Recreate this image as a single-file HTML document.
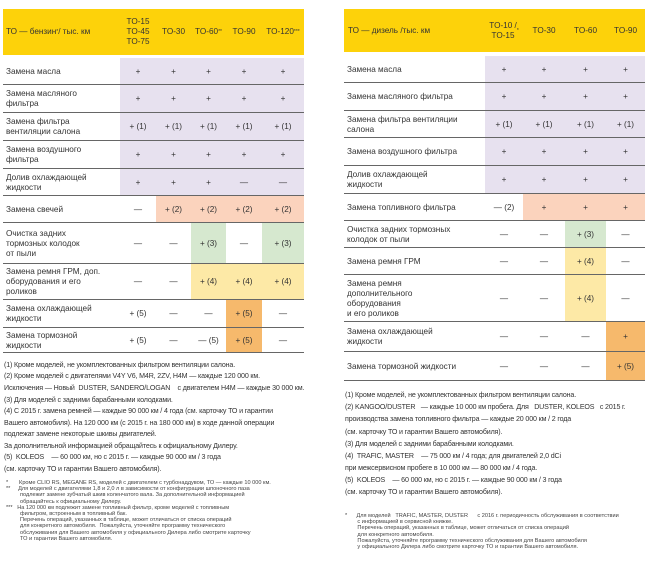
<!DOCTYPE html>
<html><head><meta charset="utf-8">
<style>
body{margin:0;width:650px;height:568px;background:#fff;position:relative;overflow:hidden;font-family:"Liberation Sans","DejaVu Sans",sans-serif;color:#333}
.a{position:absolute;box-sizing:border-box}
.hd{background:#fdd20a}
.t{font-size:8.2px;line-height:10px;display:flex;align-items:center}
.c{justify-content:center;text-align:center}
.ln{position:absolute;height:1px;background:#666}
.fn{position:absolute;font-size:7.1px;letter-spacing:-0.15px;white-space:nowrap;color:#333}
.sn{position:absolute;font-size:5.3px;white-space:nowrap;color:#444;line-height:6.2px}
</style></head><body>
<div id="root"></div>
<script>
const root=document.getElementById('root');
function box(x,y,w,h,cls,html,bg){const d=document.createElement('div');d.className='a '+cls;d.style.left=x+'px';d.style.top=y+'px';d.style.width=w+'px';d.style.height=h+'px';if(bg)d.style.background=bg;if(html)d.innerHTML=html;root.appendChild(d);return d;}
const C={p:'#e7e1ef',s:'#fbd3bd',g:'#d6e8cf',y:'#fde9a6',o:'#f6b96c',w:''};
// LEFT TABLE
const leftCols=['TO-15<br>TO-45<br>TO-75','TO-30','TO-60 <sup style="font-size:5px">**</sup>','TO-90','TO-120 <sup style="font-size:5px">***</sup>'];
const leftX=[120,156,191,226,262,304];
const leftRowY=[58,85,113,141,169,196,223,264,300,328,353];
const leftLabels=['Замена масла','Замена масляного<br>фильтра','Замена фильтра<br>вентиляции салона','Замена воздушного<br>фильтра','Долив охлаждающей<br>жидкости','Замена свечей','Очистка задних<br>тормозных колодок<br>от пыли','Замена ремня ГРМ, доп.<br>оборудования и его<br>роликов','Замена охлаждающей<br>жидкости','Замена тормозной<br>жидкости'];
const leftVals=[['+','+','+','+','+'],['+','+','+','+','+'],['+ (1)','+ (1)','+ (1)','+ (1)','+ (1)'],['+','+','+','+','+'],['+','+','+','—','—'],['—','+ (2)','+ (2)','+ (2)','+ (2)'],['—','—','+ (3)','—','+ (3)'],['—','—','+ (4)','+ (4)','+ (4)'],['+ (5)','—','—','+ (5)','—'],['+ (5)','—','— (5)','+ (5)','—']];
const leftCol=['ppppp','ppppp','ppppp','ppppp','ppppp','wssss','wwgwg','wwyyy','wwwow','wwwow'];
const h1=box(3,9,301,46,'hd t','',null);


const hl=box(6,9,114,46,'t','ТО — бензин <sup style="font-size:5px">*</sup> / тыс. км');


leftCols.forEach((t,i)=>{const d=box(leftX[i],9,leftX[i+1]-leftX[i],46,'t c',t);

});
leftLabels.forEach((lab,r)=>{const y=leftRowY[r],h=leftRowY[r+1]-y;
const l=box(6,y,114,h,'t',lab);


leftVals[r].forEach((v,i)=>{const d=box(leftX[i],y,leftX[i+1]-leftX[i],h,'t c',v,C[leftCol[r][i]]);

});
const ln=box(3,leftRowY[r+1]-1,301,1,'ln','');

});
// RIGHT TABLE
const rightCols=['TO-10 /<br>TO-15 <sup style="font-size:5px">*</sup>','TO-30','TO-60','TO-90'];
const rightX=[485,523,565,606,645];
const rightRowY=[56,83,111,138,166,194,221,248,275,322,352,381];
const rightLabels=['Замена масла','Замена масляного фильтра','Замена фильтра вентиляции<br>салона','Замена воздушного фильтра','Долив охлаждающей<br>жидкости','Замена топливного фильтра','Очистка задних тормозных<br>колодок от пыли','Замена ремня ГРМ','Замена ремня<br>дополнительного<br>оборудования<br>и его роликов','Замена охлаждающей<br>жидкости','Замена тормозной жидкости'];
const rightVals=[['+','+','+','+'],['+','+','+','+'],['+ (1)','+ (1)','+ (1)','+ (1)'],['+','+','+','+'],['+','+','+','+'],['— (2)','+','+','+'],['—','—','+ (3)','—'],['—','—','+ (4)','—'],['—','—','+ (4)','—'],['—','—','—','+'],['—','—','—','+ (5)']];
const rightCol=['pppp','pppp','pppp','pppp','pppp','wsss','wwgw','wwyw','wwyw','wwwo','wwwo'];
const h2=box(344,9,301,43,'hd t','',null);


const hl2=box(348,9,136,43,'t','ТО — дизель /тыс. км');


rightCols.forEach((t,i)=>{const d=box(rightX[i],9,rightX[i+1]-rightX[i],43,'t c',t);

});
rightLabels.forEach((lab,r)=>{const y=rightRowY[r],h=rightRowY[r+1]-y;
const l=box(347,y,137,h,'t',lab);


rightVals[r].forEach((v,i)=>{const d=box(rightX[i],y,rightX[i+1]-rightX[i],h,'t c',v,C[rightCol[r][i]]);

});
const ln=box(344,rightRowY[r+1]-1,301,1,'ln','');

});
// FOOTNOTES
const leftNotes=['(1) Кроме моделей, не укомплектованных фильтром вентиляции салона.','(2) Кроме моделей с двигателями V4Y V6, M4R, 2ZV, H4M — каждые 120 000 км.','Исключения — Новый &nbsp;DUSTER, SANDERO/LOGAN &nbsp;&nbsp; с двигателем H4M — каждые 30 000 км.','(3) Для моделей с задними барабанными колодками.','(4) С 2015 г. замена ремней — каждые 90 000 км / 4 года (см. карточку ТО и гарантии','Вашего автомобиля). На 120 000 км (с 2015 г. на 180 000 км) в ходе данной операции','подлежат замене некоторые шкивы двигателей.','За дополнительной информацией обращайтесь к официальному Дилеру.','(5) &nbsp;KOLEOS &nbsp;&nbsp; — 60 000 км, но с 2015 г. — каждые 90 000 км / 3 года','(см. карточку ТО и гарантии Вашего автомобиля).'];
const leftNoteY=[361,372,384,396,407,419,430,442,453,465];
leftNotes.forEach((t,i)=>{const d=document.createElement('div');d.className='fn';d.style.left='4px';d.style.top=leftNoteY[i]+'px';d.innerHTML=t;

root.appendChild(d);});
const leftSmall='*&nbsp;&nbsp;&nbsp;&nbsp;&nbsp;&nbsp; Кроме CLIO RS, MEGANE RS, моделей с двигателем с турбонаддувом, ТО — каждые 10 000 км.<br>**&nbsp;&nbsp;&nbsp;&nbsp; Для моделей с двигателями 1,8 и 2,0 л в зависимости от конфигурации шпоночного паза<br>&nbsp;&nbsp;&nbsp;&nbsp;&nbsp;&nbsp;&nbsp;&nbsp; подлежит замене зубчатый шкив коленчатого вала. За дополнительной информацией<br>&nbsp;&nbsp;&nbsp;&nbsp;&nbsp;&nbsp;&nbsp;&nbsp; обращайтесь к официальному Дилеру.<br>***&nbsp;&nbsp; На 120 000 км подлежит замене топливный фильтр, кроме моделей с топливным<br>&nbsp;&nbsp;&nbsp;&nbsp;&nbsp;&nbsp;&nbsp;&nbsp; фильтром, встроенным в топливный бак.<br>&nbsp;&nbsp;&nbsp;&nbsp;&nbsp;&nbsp;&nbsp;&nbsp; Перечень операций, указанных в таблице, может отличаться от списка операций<br>&nbsp;&nbsp;&nbsp;&nbsp;&nbsp;&nbsp;&nbsp;&nbsp; для конкретного автомобиля. &nbsp;Пожалуйста, уточняйте программу технического<br>&nbsp;&nbsp;&nbsp;&nbsp;&nbsp;&nbsp;&nbsp;&nbsp; обслуживания для Вашего автомобиля у официального Дилера либо смотрите карточку<br>&nbsp;&nbsp;&nbsp;&nbsp;&nbsp;&nbsp;&nbsp;&nbsp; ТО и гарантии Вашего автомобиля.';
const ls=document.createElement('div');ls.className='sn';ls.style.left='6px';ls.style.top='480px';ls.style.fontSize='5.6px';ls.innerHTML=leftSmall;

root.appendChild(ls);
const rightNotes=['(1) Кроме моделей, не укомплектованных фильтром вентиляции салона.','(2) KANGOO/DUSTER &nbsp; — каждые 10 000 км пробега. Для &nbsp; DUSTER, KOLEOS &nbsp; с 2015 г.','производства замена топливного фильтра — каждые 20 000 км / 2 года','(см. карточку ТО и гарантии Вашего автомобиля).','(3) Для моделей с задними барабанными колодками.','(4) &nbsp;TRAFIC, MASTER &nbsp;&nbsp; — 75 000 км / 4 года; для двигателей 2,0 dCi','при межсервисном пробеге в 10 000 км — 80 000 км / 4 года.','(5) &nbsp;KOLEOS &nbsp;&nbsp; — 60 000 км, но с 2015 г. — каждые 90 000 км / 3 года','(см. карточку ТО и гарантии Вашего автомобиля).'];
const rightNoteY=[391,403,415,428,440,452,464,476,488];
rightNotes.forEach((t,i)=>{const d=document.createElement('div');d.className='fn';d.style.left='345px';d.style.top=rightNoteY[i]+'px';d.innerHTML=t;

root.appendChild(d);});
const rightSmall='*&nbsp;&nbsp;&nbsp;&nbsp;&nbsp; Для моделей &nbsp; TRAFIC, MASTER, DUSTER &nbsp;&nbsp;&nbsp;&nbsp; с 2016 г. периодичность обслуживания в соответствии<br>&nbsp;&nbsp;&nbsp;&nbsp;&nbsp;&nbsp;&nbsp; с информацией в сервисной книжке.<br>&nbsp;&nbsp;&nbsp;&nbsp;&nbsp;&nbsp;&nbsp; Перечень операций, указанных в таблице, может отличаться от списка операций<br>&nbsp;&nbsp;&nbsp;&nbsp;&nbsp;&nbsp;&nbsp; для конкретного автомобиля.<br>&nbsp;&nbsp;&nbsp;&nbsp;&nbsp;&nbsp;&nbsp; Пожалуйста, уточняйте программу технического обслуживания для Вашего автомобиля<br>&nbsp;&nbsp;&nbsp;&nbsp;&nbsp;&nbsp;&nbsp; у официального Дилера либо смотрите карточку ТО и гарантии Вашего автомобиля.';
const rs=document.createElement('div');rs.className='sn';rs.style.left='345px';rs.style.top='513px';rs.style.fontSize='5.6px';rs.innerHTML=rightSmall;

root.appendChild(rs);
</script>
</body></html>
